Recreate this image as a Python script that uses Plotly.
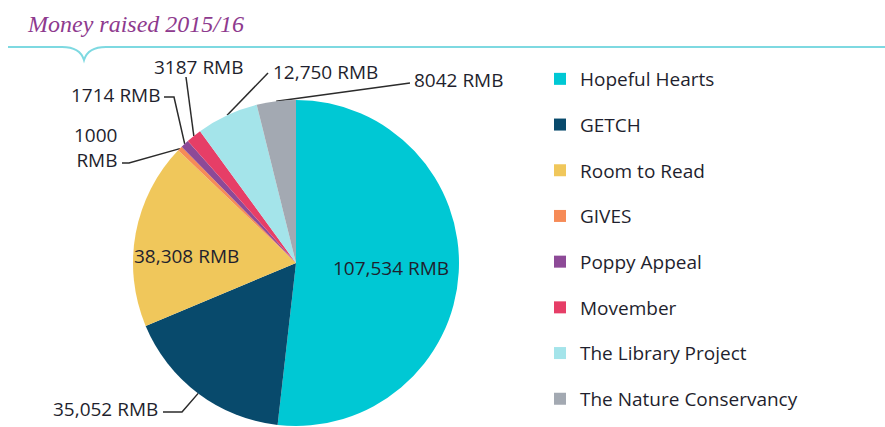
import math
import plotly.graph_objects as go

# ---- data ----
charities = ["Hopeful Hearts", "GETCH", "Room to Read", "GIVES", "Poppy Appeal",
             "Movember", "The Library Project", "The Nature Conservancy"]
amounts = [107534, 35052, 38308, 1000, 1714, 3187, 12750, 8042]
value_labels = ["107,534 RMB", "35,052 RMB", "38,308 RMB", "1000<br>RMB", "1714 RMB",
                "3187 RMB", "12,750 RMB", "8042 RMB"]
colors = ["#00C8D4", "#084A6C", "#F0C75B", "#F68B57", "#8D4A97",
          "#E63E67", "#A4E4EA", "#A3A9B2"]
title_text = "Money raised 2015/16"

W, H = 885, 427
FONT = "Open Sans"
FS = 19
TXT = "#1f1f2e"

# pie placement (pixels)
cx, cy, r = 296, 263, 163
dom_x = [max(0, (cx - r) / W), min(1, (cx + r) / W)]
dom_y = [max(0, 1 - (cy + r) / H), min(1, 1 - (cy - r) / H)]

fig = go.Figure()
fig.add_trace(go.Pie(
    labels=charities, values=amounts, sort=False, direction="clockwise", rotation=0,
    marker=dict(colors=colors, line=dict(width=0)),
    textinfo="none",
    hoverinfo="label+value",
    domain=dict(x=dom_x, y=dom_y),
    showlegend=False,
))

# mid-angle of each slice computed from the data
total = sum(amounts)
mids = []
cum = 0
for v in amounts:
    mids.append((cum + v / 2) / total * 2 * math.pi)
    cum += v


def polar(i, frac):
    return cx + frac * r * math.sin(mids[i]), cy - frac * r * math.cos(mids[i])


# inside labels: (radius fraction, nudge x, nudge y)
inside_layout = {0: (0.6, -3, -1), 2: (0.66, -4, 13)}
for i, (fr, nx, ny) in inside_layout.items():
    px, py = polar(i, fr)
    fig.add_annotation(x=px + nx, y=py + ny, xref="x", yref="y", text=value_labels[i],
                       showarrow=False, xanchor="center", yanchor="middle",
                       font=dict(family=FONT, size=FS, color=TXT))

# leader-line layout: (elbow points, label x, label y, anchor side)
leader_layout = {
    1: ([(182, 412), (163, 412)], 160, 409, "right"),
    3: ([(129, 163), (122, 163)], 119, 147, "right"),
    4: ([(174, 97), (164, 97)], 162, 95, "right"),
    5: ([(186, 77)], 198, 67, "center"),
    6: ([(268, 73)], 271, 72, "left"),
    7: ([(410, 83)], 412, 80, "left"),
}

for i, (pts, lx, ly, anc) in leader_layout.items():
    ax0, ay0 = polar(i, 1.0)
    xs = [ax0] + [p[0] for p in pts]
    ys = [ay0] + [p[1] for p in pts]
    fig.add_trace(go.Scatter(x=xs, y=ys, mode="lines", line=dict(color="#2b2b2b", width=1.5),
                             hoverinfo="skip", showlegend=False))
    fig.add_annotation(x=lx, y=ly, xref="x", yref="y", text=value_labels[i], showarrow=False,
                       xanchor=anc, yanchor="middle", align="right" if anc == "right" else anc,
                       font=dict(family=FONT, size=FS, color=TXT))

# legend entries
for name, c in zip(charities, colors):
    fig.add_trace(go.Scatter(x=[None], y=[None], mode="markers", name=name, legendgroup=name,
                             marker=dict(symbol="square", size=12, color=c)))

# title and decorative line
fig.add_annotation(x=25, y=24, xref="x", yref="y", text="<i>" + title_text + "</i>",
                   showarrow=False, xanchor="left", yanchor="middle",
                   font=dict(family="Liberation Serif", size=24, color="#8E3A8E"))
fig.add_shape(type="path", xref="x", yref="y",
              path="M 8,47 L 62,47 Q 80,47 84,60 Q 88,47 106,47 L 885,47",
              line=dict(color="#7ED9E1", width=2))

fig.update_layout(
    width=W, height=H, margin=dict(l=0, r=0, t=0, b=0),
    paper_bgcolor="white", plot_bgcolor="white",
    xaxis=dict(range=[0, W], domain=[0, 1], visible=False, fixedrange=True),
    yaxis=dict(range=[H, 0], domain=[0, 1], visible=False, fixedrange=True),
    showlegend=True,
    legend=dict(x=540 / W, y=1 - 60 / H, xanchor="left", yanchor="top",
                font=dict(family=FONT, size=FS, color=TXT),
                tracegroupgap=18, itemsizing="constant", bgcolor="rgba(0,0,0,0)"),
)

fig.write_html("out.html", config={"displayModeBar": False},
               post_script="document.body.style.margin='0';")
